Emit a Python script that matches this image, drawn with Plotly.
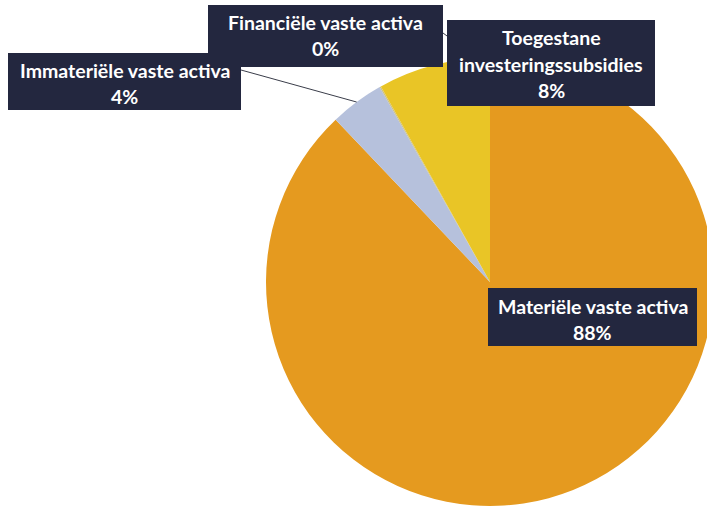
import math
import plotly.graph_objects as go

# Balance-sheet composition (share of fixed assets, %)
categories = [
    "Materiële vaste activa",
    "Immateriële vaste activa",
    "Financiële vaste activa",
    "Toegestane investeringssubsidies",
]
values = [87.9, 3.9, 0.1, 8.1]
colors = ["#E59A1F", "#B6C1DC", "#C9C08A", "#E9C526"]

W, H = 716, 510
BOX = "#23273F"
FONT = "Lato"

# pie geometry in pixels
CX, CY, R = 490, 282, 224


def px(x):
    return x / W


def py(y):
    return 1 - y / H


total = sum(values)
pcts = [round(v / total * 100) for v in values]

fig = go.Figure(
    go.Pie(
        labels=categories,
        values=values,
        sort=False,
        direction="clockwise",
        rotation=0,
        marker=dict(colors=colors, line=dict(width=0)),
        textinfo="none",
        hoverinfo="label+percent",
        showlegend=False,
        domain=dict(x=[px(CX - R), px(CX + R)], y=[py(CY + R), py(CY - R)]),
    )
)


def slice_edge(idx):
    """Point on the rim at the middle of slice idx (clockwise from 12 o'clock)."""
    start = sum(values[:idx]) / total
    mid = (start + values[idx] / total / 2) * 2 * math.pi
    return CX + R * math.sin(mid), CY - R * math.cos(mid)


shapes = []
annotations = []

# leader lines (drawn first so boxes sit on top)
ex, ey = slice_edge(1)
shapes.append(dict(type="line", xref="paper", yref="paper",
                   x0=px(241), y0=py(70), x1=px(ex), y1=py(ey),
                   line=dict(color="#3A3D4A", width=1)))
shapes.append(dict(type="line", xref="paper", yref="paper",
                   x0=px(443), y0=py(33), x1=px(466), y1=py(50),
                   line=dict(color="#3A3D4A", width=1)))

# label boxes: (category index, left, top, right, bottom, text lines with centre y)
label_boxes = [
    (2, 208, 5, 443, 67, [(categories[2], 23), (f"{pcts[2]}%", 49)]),
    (1, 8, 53, 241, 110, [(categories[1], 71), (f"{pcts[1]}%", 96)]),
    (3, 447, 20, 655, 106, [("Toegestane", 38), ("investeringssubsidies", 64),
                            (f"{pcts[3]}%", 90)]),
    (0, 488, 288, 697, 346, [(categories[0], 306), (f"{pcts[0]}%", 332)]),
]

for idx, l, t, r, b, lines in label_boxes:
    shapes.append(dict(type="rect", xref="paper", yref="paper",
                       x0=px(l), x1=px(r), y0=py(b), y1=py(t),
                       fillcolor=BOX, line=dict(width=0), layer="above"))
    for txt, yc in lines:
        annotations.append(dict(
            xref="paper", yref="paper", x=px((l + r) / 2), y=py(yc),
            text=f"<b>{txt}</b>", showarrow=False,
            xanchor="center", yanchor="middle",
            font=dict(family=FONT, size=19.5, color="white"),
        ))

fig.update_layout(
    width=W, height=H,
    margin=dict(l=0, r=0, t=0, b=0),
    paper_bgcolor="white",
    plot_bgcolor="white",
    shapes=shapes,
    annotations=annotations,
)

fig.write_html(
    "out.html",
    post_script="document.body.style.overflow='hidden';document.body.style.margin='0';",
)
